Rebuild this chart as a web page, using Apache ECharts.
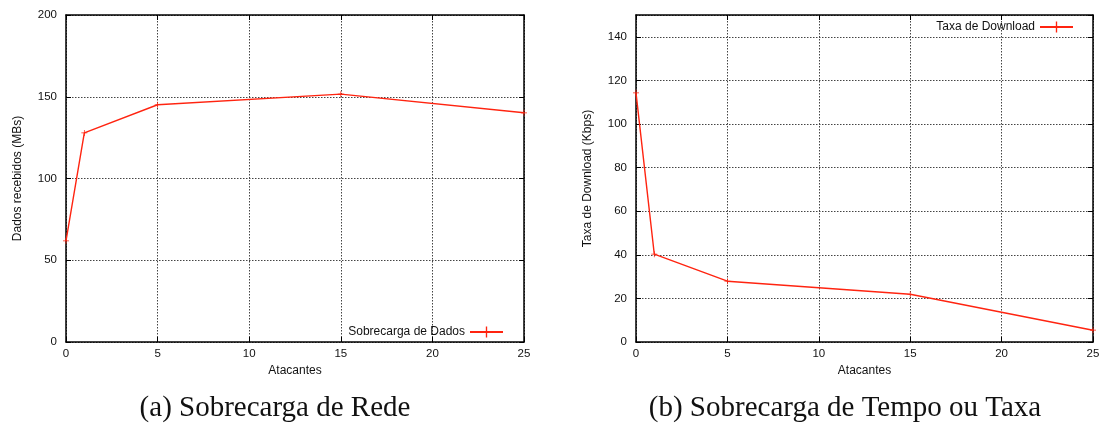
<!DOCTYPE html>
<html><head><meta charset="utf-8">
<script src="https://cdn.jsdelivr.net/npm/echarts@6/dist/echarts.min.js"></script>
<style>html,body{margin:0;padding:0;background:#fff}#c{width:1103px;height:423px}</style>
</head><body><div id="c"></div>
<script>
const attackers = [0, 1, 5, 15, 25];
const dadosRecebidos = [61.8, 127.9, 145.1, 151.6, 140.2];
const taxaDownload = [114.3, 40.3, 27.9, 21.9, 5.4];
const xTicks = [0, 5, 10, 15, 20, 25];
const seriesNames = ['Sobrecarga de Dados', 'Taxa de Download'];
const captions = ['(a) Sobrecarga de Rede', '(b) Sobrecarga de Tempo ou Taxa'];
const yNames = ['Dados recebidos (MBs)', 'Taxa de Download (Kbps)'];
const xName = 'Atacantes';

const RED = '#ff2410';
const plus = 'path://M4.4,0H5.6V4.4H10V5.6H5.6V10H4.4V5.6H0V4.4H4.4Z';
const sans = 'Liberation Sans';
const pairs = (ys) => attackers.map((x, i) => [x, ys[i]]);

function xAx(gi, pos, labels) {
  return {
    type: 'value', gridIndex: gi, position: pos, min: 0, max: 25, interval: 5,
    name: labels ? xName : '', nameLocation: 'middle', nameGap: 23,
    nameTextStyle: { fontFamily: sans, fontSize: 12, color: '#111' },
    axisLine: { show: true, onZero: false, lineStyle: { color: '#000', width: 1.5 } },
    axisTick: { show: true, inside: true, length: 5, lineStyle: { color: '#000' } },
    axisLabel: { show: labels, fontFamily: sans, fontSize: 11.5, color: '#111', margin: 6 },
    splitLine: { show: labels, lineStyle: { type: [1.5, 1.5], color: '#444', width: 1 } }
  };
}
function yAx(gi, pos, max, interval, labels, name, showMax) {
  return {
    type: 'value', gridIndex: gi, position: pos, min: 0, max: max, interval: interval,
    name: labels ? name : '', nameLocation: 'middle', nameGap: 42,
    nameTextStyle: { fontFamily: sans, fontSize: 12, color: '#111' },
    axisLine: { show: true, onZero: false, lineStyle: { color: '#000', width: 1.5 } },
    axisTick: { show: true, inside: true, length: 5, lineStyle: { color: '#000' } },
    axisLabel: { show: labels, fontFamily: sans, fontSize: 11.5, color: '#111', margin: 9,
      showMaxLabel: showMax },
    splitLine: { show: labels, lineStyle: { type: [1.5, 1.5], color: '#444', width: 1 } }
  };
}

const chart = echarts.init(document.getElementById('c'), null, { renderer: 'canvas' });
chart.setOption({
  animation: false,
  backgroundColor: '#fff',
  title: [
    { text: captions[0], left: 270, top: 389, textAlign: 'center',
      textStyle: { fontFamily: 'Liberation Serif', fontSize: 29, fontWeight: 'normal', color: '#111' } },
    { text: captions[1], left: 840, top: 389, textAlign: 'center',
      textStyle: { fontFamily: 'Liberation Serif', fontSize: 29, fontWeight: 'normal', color: '#111' } }
  ],
  grid: [
    { left: 66, right: 579, top: 15, bottom: 81 },
    { left: 636, right: 10, top: 15, bottom: 81 }
  ],
  legend: [
    { data: [seriesNames[0]], right: 594, top: 321, align: 'right', itemWidth: 33, itemHeight: 14,
      textStyle: { fontFamily: sans, fontSize: 12, color: '#111' } },
    { data: [seriesNames[1]], right: 24, top: 16, align: 'right', itemWidth: 33, itemHeight: 14,
      textStyle: { fontFamily: sans, fontSize: 12, color: '#111' } }
  ],
  xAxis: [xAx(0, 'bottom', true), xAx(0, 'top', false), xAx(1, 'bottom', true), xAx(1, 'top', false)],
  yAxis: [
    yAx(0, 'left', 200, 50, true, yNames[0], true), yAx(0, 'right', 200, 50, false, '', true),
    yAx(1, 'left', 150, 20, true, yNames[1], false), yAx(1, 'right', 150, 20, false, '', false)
  ],
  series: [
    { name: seriesNames[0], type: 'line', xAxisIndex: 0, yAxisIndex: 0, data: pairs(dadosRecebidos),
      symbol: plus, symbolSize: 6, showAllSymbol: true,
      lineStyle: { color: RED, width: 1.4 }, itemStyle: { color: RED } },
    { name: seriesNames[1], type: 'line', xAxisIndex: 2, yAxisIndex: 2, data: pairs(taxaDownload),
      symbol: plus, symbolSize: 6, showAllSymbol: true,
      lineStyle: { color: RED, width: 1.4 }, itemStyle: { color: RED } }
  ]
});
</script></body></html>
